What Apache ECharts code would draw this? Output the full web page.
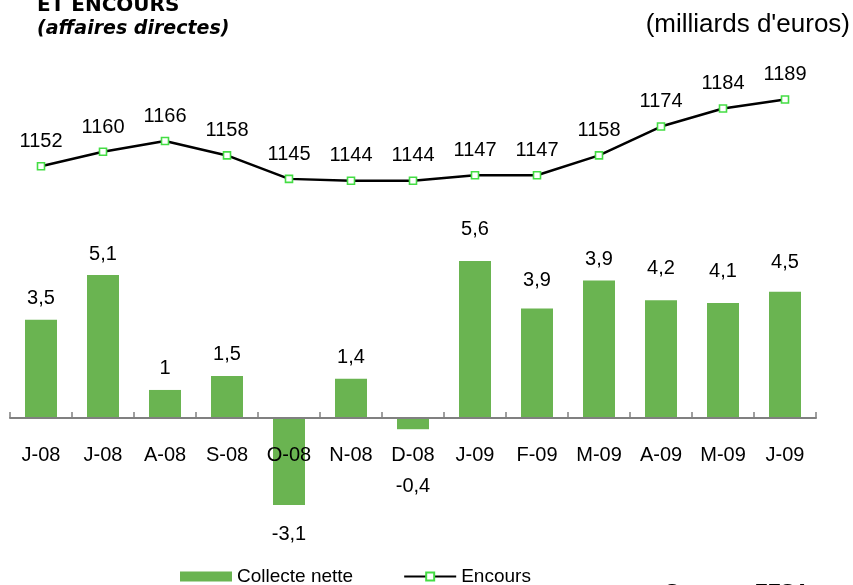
<!DOCTYPE html>
<html>
<head>
<meta charset="utf-8">
<script src="https://cdn.jsdelivr.net/npm/echarts@6/dist/echarts.min.js"></script>
<style>
html,body{margin:0;padding:0;background:#fff;}
#c{width:853px;height:585px;}
</style>
</head>
<body>
<div id="c"></div>
<script>
const categories = ['J-08','J-08','A-08','S-08','O-08','N-08','D-08','J-09','F-09','M-09','A-09','M-09','J-09'];
const collecte = [3.5, 5.1, 1, 1.5, -3.1, 1.4, -0.4, 5.6, 3.9, 4.9, 4.2, 4.1, 4.5];
const collecteLabels = ['3,5','5,1','1','1,5','-3,1','1,4','-0,4','5,6','3,9','3,9','4,2','4,1','4,5'];
const encours = [1152, 1160, 1166, 1158, 1145, 1144, 1144, 1147, 1147, 1158, 1174, 1184, 1189];

// label placement (layout only)
const labelGap = [23,22,23,23,28,23,55,33,30,23,34,34,31];

const FONT = '"Liberation Sans", Arial, sans-serif';
const chart = echarts.init(document.getElementById('c'), null, {renderer: 'canvas'});

const barData = collecte.map((v, i) => ({
  value: v,
  label: {
    position: v >= 0 ? 'top' : 'bottom',
    distance: v >= 0 ? labelGap[i] - 12 : labelGap[i] - 8
  }
}));

chart.setOption({
  animation: false,
  textStyle: {fontFamily: FONT},
  grid: [
    {left: 10, right: 37, top: 249.7, height: 280.5},
    {left: 10, right: 37, top: 79.6, height: 180.5}
  ],
  xAxis: [
    {
      type: 'category', gridIndex: 0, data: categories,
      offset: -112.2, z: 5,
      axisLine: {onZero: false, lineStyle: {color: '#808080', width: 2}},
      axisTick: {show: true, inside: true, length: 6, lineStyle: {color: '#808080', width: 1.5}},
      axisLabel: {color: '#000', fontSize: 20, fontFamily: FONT, margin: 27, interval: 0}
    },
    {
      type: 'category', gridIndex: 1, data: categories, show: false
    }
  ],
  yAxis: [
    {type: 'value', gridIndex: 0, min: -4, max: 6, show: false, splitLine: {show: false}},
    {type: 'value', gridIndex: 1, min: 1100, max: 1200, show: false, splitLine: {show: false}}
  ],
  legend: {
    left: 175, top: 562,
    itemWidth: 52, itemHeight: 10, itemGap: 50,
    textStyle: {fontSize: 19, color: '#000', fontFamily: FONT},
    data: [
      {name: 'Collecte nette', icon: 'rect'},
      {name: 'Encours'}
    ]
  },
  series: [
    {
      name: 'Collecte nette', type: 'bar', xAxisIndex: 0, yAxisIndex: 0,
      data: barData, barWidth: 32,
      itemStyle: {color: '#6ab451'},
      label: {
        show: true, fontSize: 20, color: '#000', fontFamily: FONT,
        formatter: p => collecteLabels[p.dataIndex]
      }
    },
    {
      name: 'Encours', type: 'line', xAxisIndex: 1, yAxisIndex: 1,
      data: encours,
      symbol: 'rect', symbolSize: 7,
      lineStyle: {color: '#000', width: 2.5},
      itemStyle: {color: '#fff', borderColor: '#44dd44', borderWidth: 1.6},
      label: {show: true, position: 'top', distance: 10.5, fontSize: 20, color: '#000', fontFamily: FONT}
    }
  ],
  graphic: [
    {type: 'text', left: 37, top: -4, style: {text: 'ET ENCOURS', font: 'bold 20px "DejaVu Sans"', fill: '#000'}},
    {type: 'text', left: 37, top: 20, style: {text: '(affaires directes)', font: 'italic bold 19px "DejaVu Sans"', fill: '#000'}},
    {type: 'text', right: 3, top: 12, style: {text: "(milliards d'euros)", font: '26px "Liberation Sans"', fill: '#000'}},
    {type: 'text', left: 665, top: 582, style: {text: 'Source : FFSA', font: 'bold 21px "Liberation Sans"', fill: '#000'}}
  ]
});
</script>
</body>
</html>
